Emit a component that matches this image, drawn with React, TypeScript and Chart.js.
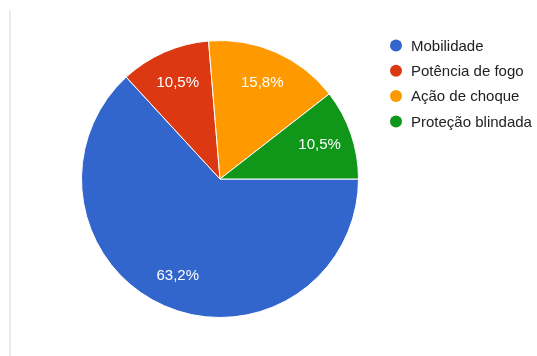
import React, { useEffect, useRef } from "react";
import { Chart, registerables } from "chart.js";

Chart.register(...registerables);

const categories = ["Mobilidade", "Potência de fogo", "Ação de choque", "Proteção blindada"];
const responses = [12, 2, 3, 2];
const sliceColors = ["#3366cc", "#dc3912", "#ff9900", "#109618"];

const FONT = '"Liberation Sans", Arial, sans-serif';

const sliceLabels = {
  id: "sliceLabels",
  afterDatasetsDraw(chart: any) {
    const ctx = chart.ctx;
    const meta = chart.getDatasetMeta(0);
    const data = chart.data.datasets[0].data as number[];
    const total = data.reduce((a, b) => a + b, 0);
    ctx.save();
    ctx.font = `15px ${FONT}`;
    ctx.fillStyle = "#ffffff";
    ctx.textAlign = "center";
    ctx.textBaseline = "middle";
    meta.data.forEach((arc: any, i: number) => {
      const p = arc.getProps(["x", "y", "startAngle", "endAngle", "outerRadius"], true);
      const mid = (p.startAngle + p.endAngle) / 2;
      const r = p.outerRadius * 0.76;
      const txt = ((data[i] / total) * 100).toFixed(1).replace(".", ",") + "%";
      ctx.fillText(txt, p.x + Math.cos(mid) * r, p.y + Math.sin(mid) * r);
    });
    ctx.restore();
  },
};

const sideLegend = {
  id: "sideLegend",
  afterDraw(chart: any) {
    const ctx = chart.ctx;
    const labels = chart.data.labels as string[];
    const colors = chart.data.datasets[0].backgroundColor as string[];
    const x0 = 396;
    const y0 = 45.5;
    const step = 25.3;
    ctx.save();
    ctx.font = `15px ${FONT}`;
    ctx.textBaseline = "middle";
    ctx.textAlign = "left";
    labels.forEach((lab, i) => {
      const y = y0 + i * step;
      ctx.beginPath();
      ctx.arc(x0, y, 6, 0, Math.PI * 2);
      ctx.fillStyle = colors[i];
      ctx.fill();
      ctx.fillStyle = "#222222";
      ctx.fillText(lab, x0 + 15, y + 1);
    });
    ctx.restore();
  },
};

export default function App() {
  const ref = useRef<HTMLCanvasElement>(null);
  useEffect(() => {
    document.body.style.margin = "0";
    const chart = new Chart(ref.current!, {
      type: "pie",
      data: {
        labels: categories,
        datasets: [
          {
            data: responses,
            backgroundColor: sliceColors,
            borderColor: "#ffffff",
            borderWidth: 1,
          },
        ],
      },
      options: {
        animation: false,
        responsive: false,
        rotation: 90,
        layout: { padding: { left: 81, top: 40, right: 178, bottom: 38 } },
        plugins: {
          legend: { display: false },
          tooltip: { enabled: false },
        },
      },
      plugins: [sliceLabels, sideLegend],
    });
    return () => chart.destroy();
  }, []);
  return (
    <div style={{ position: "relative", width: 537, height: 356, background: "#fff" }}>
      <div
        style={{
          position: "absolute",
          left: 9,
          top: 10,
          width: 2,
          height: 346,
          background: "#ececec",
        }}
      />
      <canvas ref={ref} width={537} height={356} style={{ position: "absolute", left: 0, top: 0 }} />
    </div>
  );
}
